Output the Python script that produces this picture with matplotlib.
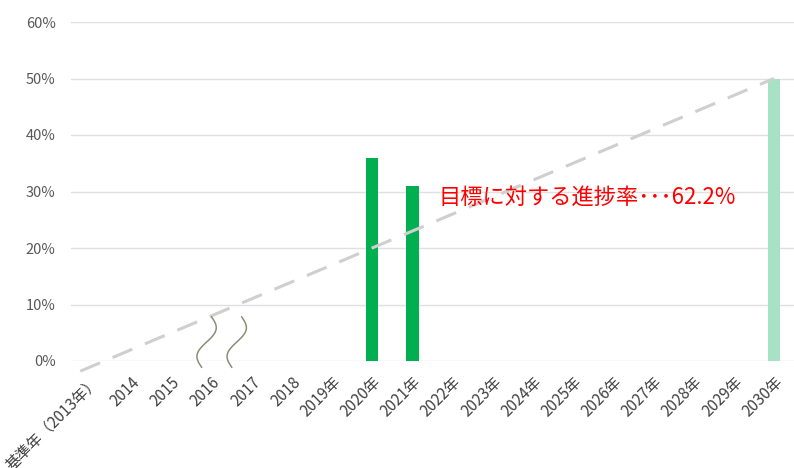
import numpy as np
import matplotlib
matplotlib.use("Agg")
import matplotlib.pyplot as plt

plt.rcParams['font.family'] = ['Noto Sans CJK JP', 'DejaVu Sans']

categories = ["基準年（2013年）", "2014", "2015", "2016", "2017", "2018", "2019年",
              "2020年", "2021年", "2022年", "2023年", "2024年", "2025年", "2026年",
              "2027年", "2028年", "2029年", "2030年"]
actual_values = [None, None, None, None, None, None, None, 36, 31,
                 None, None, None, None, None, None, None, None, None]
target_values = [None] * 17 + [50]
# dashed guide line end points (category position, %)
guide_x = [-0.27, 17]
guide_y = [-1.8, 50]
yticks = [0, 10, 20, 30, 40, 50, 60]
ytick_labels = ["0%", "10%", "20%", "30%", "40%", "50%", "60%"]
annotation = "目標に対する進捗率･･･62.2%"

fig = plt.figure(figsize=(7.94, 4.68), dpi=100)
ax = fig.add_axes([71/794, 1 - 361/468, 723/794, (361 - 22)/468])

x = np.arange(len(categories))
bw = 0.31
for i, v in enumerate(actual_values):
    if v is not None:
        ax.bar(x[i], v, width=bw, color="#00B050", zorder=2)
for i, v in enumerate(target_values):
    if v is not None:
        ax.bar(x[i], v, width=bw, color="#A8E2C6", zorder=2)

ax.plot(guide_x, guide_y, color="#D0CECE", lw=2.2, dashes=(7, 4.5),
        zorder=3, clip_on=False)

# break marks (squiggles)
t = np.linspace(0, 1, 100)
for xs in (3.0, 3.75):
    sx = xs + (-10 * t + 7 * np.sin(2 * np.pi * t)) / 40.25
    sy = 7.8 - t * 8.9
    ax.plot(sx, sy, color="#8C8C78", lw=1.1, zorder=4, clip_on=False)

ax.set_xlim(-0.5, len(categories) - 0.5)
ax.set_ylim(0, 60)
ax.set_yticks(yticks)
ax.set_yticklabels(ytick_labels, fontsize=10.5, color="#595959")
ax.set_xticks(x)
ax.set_xticklabels(categories, rotation=45, ha="right", va="top",
                   rotation_mode="anchor", fontsize=11, color="#404040")
ax.tick_params(axis="both", length=0)
ax.tick_params(axis="y", pad=11)
ax.tick_params(axis="x", pad=9)
ax.grid(axis="y", color="#E0E0E0", lw=1, zorder=0)
ax.set_axisbelow(True)
for s in ax.spines.values():
    s.set_visible(False)

ax.text(8.65, 29, annotation, color="#FF0000", fontsize=16, va="center",
        ha="left", zorder=5)

fig.savefig("out.png", dpi=100)
